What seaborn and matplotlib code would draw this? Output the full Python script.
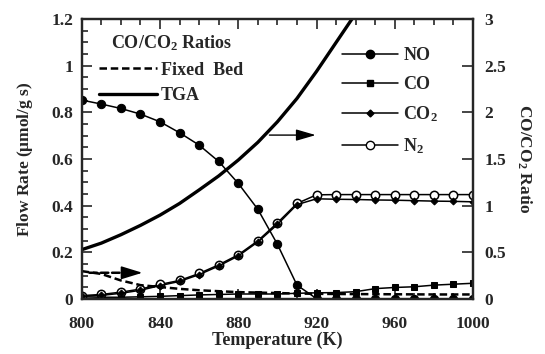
import matplotlib
matplotlib.use("Agg")
import matplotlib.pyplot as plt
import numpy as np
import pandas as pd
import seaborn as sns
from matplotlib.lines import Line2D
from matplotlib.ticker import MultipleLocator, FuncFormatter

# temperatures (K)
temp = [800, 810, 820, 830, 840, 850, 860, 870, 880, 890, 900,
        910, 920, 930, 940, 950, 960, 970, 980, 990, 1000]

# flow rates (umol/g s), left axis
no_flow = [0.853, 0.836, 0.817, 0.793, 0.76, 0.713, 0.66, 0.59, 0.496, 0.385, 0.235,
           0.06, 0.002, 0.001, 0.001, 0.001, 0.001, 0.001, 0.001, 0.001, 0.001]
co_flow = [0.01, 0.008, 0.008, 0.01, 0.012, 0.015, 0.018, 0.02, 0.022, 0.022, 0.022,
           0.025, 0.027, 0.028, 0.032, 0.045, 0.05, 0.053, 0.06, 0.064, 0.068]
co2_flow = [0.012, 0.016, 0.025, 0.038, 0.058, 0.076, 0.105, 0.142, 0.185, 0.245, 0.32,
            0.405, 0.43, 0.428, 0.427, 0.425, 0.424, 0.422, 0.42, 0.419, 0.417]
n2_flow = [0.015, 0.02, 0.03, 0.043, 0.063, 0.08, 0.11, 0.147, 0.19, 0.25, 0.327,
           0.41, 0.447, 0.448, 0.448, 0.448, 0.448, 0.448, 0.448, 0.448, 0.448]

# CO/CO2 ratios, right axis
fixed_bed = [0.3, 0.27, 0.2, 0.15, 0.13, 0.11, 0.095, 0.085, 0.075, 0.07, 0.065,
             0.06, 0.057, 0.055, 0.054, 0.053, 0.052, 0.051, 0.05, 0.05, 0.05]
tga_temp = [800, 810, 820, 830, 840, 850, 860, 870, 880, 890, 900, 910, 920, 930, 940]
tga_ratio = [0.53, 0.6, 0.69, 0.79, 0.9, 1.025, 1.17, 1.32, 1.49, 1.68, 1.9,
             2.15, 2.44, 2.75, 3.06]

df = pd.DataFrame({"T": temp, "NO": no_flow, "CO": co_flow, "CO2": co2_flow,
                   "N2": n2_flow, "fixed": fixed_bed})
df_tga = pd.DataFrame({"T": tga_temp, "ratio": tga_ratio})

sns.set_style("ticks")
plt.rcParams["font.family"] = ["Liberation Serif", "DejaVu Serif"]
plt.rcParams["font.weight"] = "bold"
plt.rcParams["axes.labelweight"] = "bold"
plt.rcParams["mathtext.fontset"] = "custom"
plt.rcParams["mathtext.rm"] = "Liberation Serif:bold"
plt.rcParams["mathtext.it"] = "Liberation Serif:bold"
plt.rcParams["mathtext.bf"] = "Liberation Serif:bold"

fig = plt.figure(figsize=(5.45, 3.54), dpi=100)
ax = fig.add_axes([0.150, 0.155, 0.718, 0.791])
ax2 = ax.twinx()

lw = 1.1
sns.lineplot(data=df, x="T", y="NO", ax=ax, color="black", lw=lw, marker="o",
             markersize=6, markeredgecolor="black")
sns.lineplot(data=df, x="T", y="CO", ax=ax, color="black", lw=lw, marker="s",
             markersize=5, markeredgecolor="black")
sns.lineplot(data=df, x="T", y="N2", ax=ax, color="black", lw=lw, marker="o",
             markersize=6, markerfacecolor="white", markeredgecolor="black",
             markeredgewidth=1.1)
sns.lineplot(data=df, x="T", y="CO2", ax=ax, color="black", lw=lw, marker="D",
             markersize=3.5, markeredgecolor="black")

sns.lineplot(data=df, x="T", y="fixed", ax=ax2, color="black", lw=1.8,
             linestyle=(0, (3, 1.5)))
sns.lineplot(data=df_tga, x="T", y="ratio", ax=ax2, color="black", lw=2.4)

ax.set_xlim(800, 1000)
ax.set_ylim(0, 1.2)
ax2.set_ylim(0, 3)


def short(v, pos):
    return f"{v:g}"


ax.xaxis.set_major_locator(MultipleLocator(40))
ax.xaxis.set_minor_locator(MultipleLocator(10))
ax.yaxis.set_major_locator(MultipleLocator(0.2))
ax.yaxis.set_minor_locator(MultipleLocator(0.05))
ax.yaxis.set_major_formatter(FuncFormatter(short))
ax2.yaxis.set_major_locator(MultipleLocator(0.5))
ax2.yaxis.set_major_formatter(FuncFormatter(short))

ax.tick_params(axis="both", which="both", direction="in", top=True, width=1.2,
               labelsize=12.5, pad=6)
ax.tick_params(axis="x", which="major", pad=12)
ax.tick_params(axis="both", which="major", length=7)
ax.tick_params(axis="both", which="minor", length=4)
ax.tick_params(axis="y", right=False, which="both")
ax2.tick_params(axis="y", direction="in", length=8, width=1.2, labelsize=12.5, pad=8)

for a in (ax, ax2):
    for s in a.spines.values():
        s.set_linewidth(1.6)

ax.set_xlabel("Temperature (K)", fontsize=13, labelpad=0)
ax.set_ylabel("Flow Rate ($\\mu$mol/g s)", fontsize=12.5, labelpad=12)
ax2.set_ylabel("CO/CO$_2$ Ratio", fontsize=12.5, rotation=270, labelpad=20)

# arrows pointing to right axis
ax.annotate("", xy=(921, 0.703), xytext=(894.5, 0.703),
            arrowprops=dict(arrowstyle="-|>,head_length=1.2,head_width=0.35",
                            color="black", lw=1.0))
# fixed bed arrow: dashed shaft, solid head
ax.annotate("", xy=(824, 0.113), xytext=(804, 0.113),
            arrowprops=dict(arrowstyle="-", color="black", lw=1.8,
                            linestyle=(0, (3, 1.5)), shrinkA=0, shrinkB=0))
ax.annotate("", xy=(831, 0.113), xytext=(822, 0.113),
            arrowprops=dict(arrowstyle="-|>,head_length=1.3,head_width=0.4",
                            color="black", lw=1.2, shrinkA=0, shrinkB=0))

# species legend
h_species = [
    Line2D([], [], color="black", lw=lw, marker="o", markersize=6, label="NO"),
    Line2D([], [], color="black", lw=lw, marker="s", markersize=5, label="CO"),
    Line2D([], [], color="black", lw=lw, marker="D", markersize=3.5, label="CO$_2$"),
    Line2D([], [], color="black", lw=lw, marker="o", markersize=6,
           markerfacecolor="white", label="N$_2$"),
]
leg1 = ax2.legend(handles=h_species, loc="upper left", bbox_to_anchor=(0.665, 0.90),
                  frameon=False, fontsize=13, handlelength=3.1, handletextpad=0.3,
                  labelspacing=0.65, borderpad=0, borderaxespad=0)

# ratio legend
h_ratio = [
    Line2D([], [], color="black", lw=1.8, linestyle=(0, (3, 1.5)), label="Fixed  Bed"),
    Line2D([], [], color="black", lw=2.4, label="TGA"),
]
leg2 = ax2.legend(handles=h_ratio, loc="upper left", bbox_to_anchor=(0.045, 0.948),
                  frameon=False, fontsize=13, handlelength=3.2, handletextpad=0.2,
                  labelspacing=0.45, borderpad=0, borderaxespad=0,
                  title="CO/CO$_2$ Ratios", title_fontproperties={"size": 13, "weight": "bold"})
leg2._legend_box.sep = 6
ax2.add_artist(leg1)

fig.savefig("out.png", dpi=100)
